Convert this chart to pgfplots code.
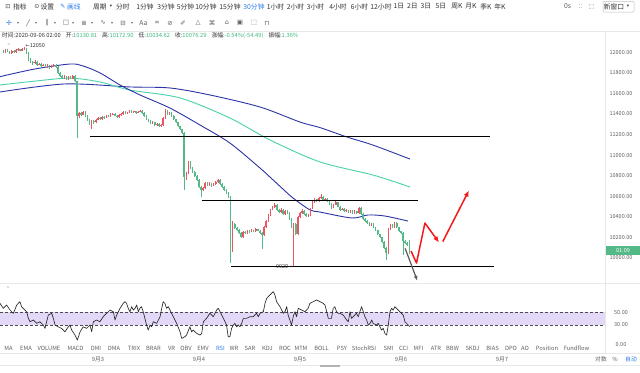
\documentclass[border=0pt]{standalone}
\usepackage{pgfplots}
\pgfplotsset{compat=1.18}
\usepackage{pgfplotstable}
\usepackage{fontspec}
\usetikzlibrary{arrows.meta}
\setmainfont{Noto Sans CJK SC}
\newfontfamily\sym{DejaVu Sans}
\definecolor{upc}{RGB}{236,84,98}
\definecolor{dnc}{RGB}{83,185,135}
\definecolor{mablue}{RGB}{45,52,165}
\definecolor{mateal}{RGB}{72,210,168}
\definecolor{txt}{RGB}{95,95,95}
\definecolor{dtxt}{RGB}{50,50,50}
\definecolor{lgray}{RGB}{232,232,232}
\definecolor{band}{RGB}{228,216,248}
\definecolor{uiblue}{RGB}{45,125,235}
\definecolor{valgreen}{RGB}{60,185,125}
\definecolor{arrred}{RGB}{245,25,25}

\pgfplotstableread{
k o h l c
0 12010 12025 11990 12000
1 12000 12030 11995 12020
2 12020 12028 11998 12005
3 12005 12012 11982 11990
4 11990 12018 11985 12010
5 12010 12020 11992 12000
6 12000 12032 11995 12025
7 12025 12040 12015 12030
8 12030 12036 12008 12015
9 12015 12042 12010 12035
10 12035 12050 12025 12040
11 12040 12045 11980 11990
12 11990 11998 11920 11930
13 11930 11940 11895 11905
14 11905 11915 11880 11895
15 11895 11922 11888 11910
16 11910 11918 11870 11880
17 11880 11900 11872 11890
18 11890 11896 11860 11870
19 11870 11890 11862 11880
20 11880 11888 11850 11860
21 11860 11882 11852 11870
22 11870 11875 11840 11850
23 11850 11872 11845 11865
24 11865 11890 11858 11880
25 11880 11886 11850 11860
26 11860 11866 11790 11800
27 11800 11808 11760 11770
28 11770 11778 11740 11750
29 11750 11775 11742 11765
30 11765 11770 11730 11740
31 11740 11768 11735 11760
32 11760 11766 11738 11745
33 11745 11780 11740 11770
34 11770 11778 11710 11720
35 11720 11725 11170 11380
36 11380 11420 11360 11410
37 11410 11418 11385 11395
38 11395 11430 11390 11420
39 11420 11426 11370 11380
40 11380 11388 11330 11340
41 11340 11350 11295 11310
42 11310 11340 11250 11330
43 11330 11338 11305 11320
44 11320 11352 11312 11345
45 11345 11370 11338 11360
46 11360 11368 11340 11350
47 11350 11385 11345 11375
48 11375 11382 11355 11365
49 11365 11395 11360 11385
50 11385 11392 11370 11380
51 11380 11405 11372 11395
52 11395 11412 11388 11400
53 11400 11406 11378 11385
54 11385 11392 11360 11370
55 11370 11398 11365 11390
56 11390 11408 11382 11400
57 11400 11430 11395 11420
58 11420 11426 11398 11405
59 11405 11422 11400 11415
60 11415 11440 11408 11430
61 11430 11436 11408 11415
62 11415 11432 11410 11425
63 11425 11430 11402 11410
64 11410 11428 11405 11420
65 11420 11438 11415 11430
66 11430 11435 11402 11410
67 11410 11415 11372 11380
68 11380 11386 11342 11350
69 11350 11356 11322 11330
70 11330 11338 11300 11310
71 11310 11328 11302 11320
72 11320 11325 11285 11295
73 11295 11312 11288 11305
74 11305 11310 11270 11280
75 11280 11298 11272 11290
76 11290 11368 11285 11360
77 11360 11445 11355 11430
78 11430 11436 11392 11400
79 11400 11418 11395 11410
80 11410 11415 11372 11380
81 11380 11386 11342 11350
82 11350 11356 11312 11320
83 11320 11326 11272 11280
84 11280 11286 11242 11250
85 11250 11258 11205 11215
86 11215 11222 10660 10790
87 10790 10840 10760 10830
88 10830 10945 10820 10930
89 10930 10940 10870 10880
90 10880 10888 10830 10840
91 10840 10848 10790 10800
92 10800 10808 10750 10760
93 10760 10768 10680 10690
94 10690 10698 10595 10665
95 10665 10690 10650 10680
96 10680 10740 10672 10730
97 10730 10738 10700 10710
98 10710 10735 10702 10725
99 10725 10732 10695 10705
100 10705 10728 10698 10720
101 10720 10748 10712 10740
102 10740 10770 10732 10760
103 10760 10766 10712 10720
104 10720 10726 10680 10690
105 10690 10698 10650 10660
106 10660 10668 10620 10630
107 10630 10640 10580 10590
108 10590 10598 9955 10175
109 10175 10360 10060 10330
110 10330 10338 10280 10290
111 10290 10298 10260 10270
112 10270 10278 10230 10240
113 10240 10250 10190 10200
114 10200 10262 10192 10250
115 10250 10258 10230 10240
116 10240 10275 10232 10265
117 10265 10272 10245 10255
118 10255 10280 10248 10270
119 10270 10276 10250 10260
120 10260 10290 10252 10280
121 10280 10286 10258 10265
122 10265 10272 10232 10240
123 10240 10248 10090 10220
124 10220 10310 10212 10300
125 10300 10370 10292 10360
126 10360 10430 10352 10420
127 10420 10480 10410 10470
128 10470 10510 10462 10500
129 10500 10535 10490 10520
130 10520 10528 10460 10470
131 10470 10478 10440 10450
132 10450 10482 10442 10470
133 10470 10476 10420 10430
134 10430 10470 10422 10460
135 10460 10466 10430 10440
136 10440 10448 10370 10380
137 10380 10388 10290 10300
138 10300 10345 9920 10330
139 10330 10338 10220 10230
140 10230 10410 10222 10400
141 10400 10452 10392 10440
142 10440 10472 10432 10460
143 10460 10466 10420 10430
144 10430 10436 10400 10410
145 10410 10432 10402 10420
146 10420 10490 10412 10480
147 10480 10550 10472 10540
148 10540 10582 10532 10570
149 10570 10578 10545 10555
150 10555 10592 10548 10580
151 10580 10620 10572 10590
152 10590 10598 10556 10565
153 10565 10585 10558 10575
154 10575 10580 10540 10550
155 10550 10556 10520 10530
156 10530 10536 10480 10490
157 10490 10528 10482 10520
158 10520 10550 10512 10540
159 10540 10546 10492 10500
160 10500 10506 10460 10470
161 10470 10490 10462 10480
162 10480 10486 10445 10455
163 10455 10475 10448 10465
164 10465 10470 10436 10445
165 10445 10470 10438 10460
166 10460 10466 10430 10440
167 10440 10465 10432 10455
168 10455 10460 10430 10440
169 10440 10500 10432 10490
170 10490 10496 10420 10430
171 10430 10436 10370 10380
172 10380 10388 10350 10360
173 10360 10366 10330 10340
174 10340 10346 10310 10320
175 10320 10340 10312 10330
176 10330 10336 10290 10300
177 10300 10306 10260 10270
178 10270 10276 10220 10230
179 10230 10236 10190 10200
180 10200 10206 10150 10160
181 10160 10168 10090 10100
182 10100 10108 9985 10050
183 10050 10290 10040 10280
184 10280 10335 10270 10320
185 10320 10328 10290 10300
186 10300 10350 10292 10340
187 10340 10346 10290 10300
188 10300 10306 10250 10260
189 10260 10266 10230 10240
190 10240 10248 10030 10170
191 10170 10178 10140 10150
192 10150 10158 10120 10130
193 10130.81 10172.90 10034.62 10076.29
}\candles

\pgfplotstableread{
k rsi
-1.6 64.1
0.0 56.3
1.6 61.5
3.2 53.6
4.8 48.4
6.4 61.5
7.9 66.8
8.7 58.9
10.3 53.6
11.1 51.0
11.9 40.5
12.7 35.2
14.3 37.9
15.9 32.6
17.4 35.2
19.0 30.0
19.8 24.7
20.6 35.2
21.4 45.7
23.0 48.4
23.8 40.5
24.6 30.0
26.1 27.3
27.7 24.7
29.3 19.4
30.9 27.3
31.7 30.0
32.5 22.1
34.1 14.2
35.2 6.3
36.5 19.4
38.0 27.3
39.6 24.7
41.2 30.0
42.0 19.4
42.8 35.2
44.4 37.9
45.9 35.2
47.5 43.1
49.1 48.4
50.7 53.6
52.3 51.0
53.1 37.9
53.9 45.7
55.5 56.3
57.0 64.1
57.8 66.8
58.6 64.1
59.4 56.3
60.2 51.0
61.0 58.9
61.8 53.6
62.6 56.3
63.4 61.5
64.2 51.0
64.9 56.3
65.7 58.9
66.5 51.0
67.3 40.5
68.1 30.0
68.9 22.1
69.7 30.0
70.5 27.3
71.3 35.2
72.9 32.6
74.5 43.1
75.3 56.3
76.0 66.8
76.8 64.1
77.6 56.3
78.4 58.9
79.2 53.6
80.8 43.1
82.4 32.6
84.0 19.4
84.8 8.9
86.3 11.6
87.1 14.2
88.7 27.3
89.5 19.4
90.3 22.1
91.1 19.4
91.9 16.8
93.5 14.2
94.3 16.8
95.1 35.2
96.6 40.5
98.2 48.4
99.8 43.1
101.4 53.6
102.2 56.3
103.0 51.0
103.8 45.7
105.4 35.2
106.1 30.0
106.9 11.6
107.7 11.6
108.5 24.7
109.3 30.0
110.1 32.6
110.9 27.3
111.7 30.0
112.5 27.3
113.3 32.6
114.1 40.5
115.6 40.5
117.2 43.1
118.8 43.1
120.4 48.4
121.2 43.1
122.0 48.4
123.6 51.0
124.4 64.1
125.2 72.0
126.7 77.3
128.3 82.5
129.1 77.3
129.9 66.8
131.5 58.9
133.1 48.4
133.9 51.0
134.7 58.9
135.4 45.7
136.2 37.9
137.0 30.0
137.8 43.1
138.6 51.0
139.4 43.1
140.2 56.3
141.8 53.6
143.4 51.0
144.9 56.3
145.7 64.1
147.3 66.8
148.9 69.4
150.5 66.8
152.1 64.1
152.9 61.5
153.7 51.0
154.5 40.5
156.0 40.5
156.8 56.3
157.6 58.9
158.4 51.0
159.2 48.4
160.0 48.4
161.6 45.7
163.2 37.9
164.0 35.2
164.8 51.0
165.5 40.5
166.3 43.1
167.1 45.7
167.9 48.4
168.7 43.1
169.5 51.0
170.3 58.9
171.1 51.0
171.9 43.1
172.7 37.9
173.5 30.0
174.3 32.6
175.1 37.9
175.8 32.6
177.4 30.0
178.2 32.6
179.0 27.3
179.8 22.1
180.6 24.7
181.4 16.8
182.2 14.2
183.0 30.0
183.8 51.0
184.6 56.3
185.3 53.6
186.1 58.9
186.9 56.3
187.7 53.6
188.5 51.0
190.1 45.7
190.9 35.2
191.7 32.6
192.5 30.0
193.3 27.3
}\rsitab

\pgfplotsset{
  candle/.style={draw=none, mark=none, forget plot,
    error bars/y dir=minus, error bars/y explicit, error bars/error mark=none}
}

\begin{document}
\begin{tikzpicture}
\path[use as bounding box] (0bp,0bp) rectangle (640bp,-373bp);
\fill[white] (0bp,0bp) rectangle (640bp,-373bp);
\begin{scope}[x=1bp,y=1bp]
\draw[lgray, line width=0.6bp] (0,-31.5) -- (640,-31.5);
\draw[lgray, line width=0.6bp] (0,-283.5) -- (640,-283.5);
\draw[lgray, line width=0.6bp] (0,-353.5) -- (640,-353.5);
\draw[lgray, line width=0.6bp] (0,-365.5) -- (640,-365.5);
\draw[lgray, line width=0.6bp] (605,-31.5) -- (605,-353.5);
\end{scope}

% ---------- price pane ----------
\begin{axis}[at={(0bp,-283bp)}, anchor=south west, scale only axis,
  width=605bp, height=241bp,
  xmin=-1.57, xmax=286, ymin=9757, ymax=12100,
  axis line style={draw=none}, tick style={draw=none},
  xtick=\empty, ytick={10000,10200,...,12000},
  scaled y ticks=false,
  yticklabel pos=right,
  /pgf/number format/assume math mode=true,
  yticklabel={\pgfmathprintnumber[fixed,fixed zerofill,precision=2,1000 sep={}]{\tick}},
  yticklabel style={anchor=center, xshift=16bp, text=txt, font=\fontsize{5.5}{6}\selectfont},
  clip=true]
% MAs
\addplot[mablue, line width=0.9bp, smooth] coordinates {
(-1.6,11614) (29.3,11692) (60.2,11663) (79.2,11653) (98.2,11585) (122.0,11468)
(141.0,11322) (150.5,11268) (163.4,11176) (175.7,11098) (193.3,10962)};
\addplot[mateal, line width=0.9bp, smooth] coordinates {
(-1.6,11682) (15.1,11720) (31.7,11749) (46.0,11711) (60.2,11633) (84.0,11556)
(107.7,11361) (126.8,11147) (150.5,10934) (175.7,10807) (193.3,10690)};
\addplot[mablue, line width=0.9bp, smooth] coordinates {
(-1.6,11763) (15.1,11838) (31.7,11886) (37.9,11867) (46.0,11799) (55.5,11682)
(65.0,11585) (79.2,11458) (93.5,11293) (107.7,11118) (122.0,10875) (126.7,10788)
(132.9,10671) (137.7,10583) (145.8,10467) (150.5,10447) (165.7,10389)
(173.3,10418) (181.4,10408) (192.4,10359)};
% candle wicks
\addplot[candle, restrict expr to domain={\thisrow{c}-\thisrow{o}}{0:100000},
  error bars/error bar style={draw=upc, line width=0.6bp}]
  table[x=k, y=h, y error minus expr={\thisrow{h}-\thisrow{l}}] {\candles};
\addplot[candle, restrict expr to domain={\thisrow{o}-\thisrow{c}}{0.001:100000},
  error bars/error bar style={draw=dnc, line width=0.6bp}]
  table[x=k, y=h, y error minus expr={\thisrow{h}-\thisrow{l}}] {\candles};
% candle bodies
\addplot[candle, restrict expr to domain={\thisrow{c}-\thisrow{o}}{0:100000},
  error bars/error bar style={draw=upc, line width=1.6bp}]
  table[x=k, y=c, y error minus expr={\thisrow{c}-\thisrow{o}}] {\candles};
\addplot[candle, restrict expr to domain={\thisrow{o}-\thisrow{c}}{0.001:100000},
  error bars/error bar style={draw=dnc, line width=1.6bp}]
  table[x=k, y=o, y error minus expr={\thisrow{o}-\thisrow{c}}] {\candles};
% drawn horizontal levels
\addplot[black, line width=1.1bp] coordinates {(41.2,11185) (231.3,11185)};
\addplot[black, line width=1.1bp] coordinates {(94.4,10558) (197.1,10558)};
\addplot[black, line width=1.1bp] coordinates {(108.2,9919) (233.2,9919)};
% arrows
\addplot[arrred, line width=1.5bp, line join=round, -{Latex[length=6bp,width=5bp]}] coordinates {
(193.8,10068) (196.4,9951) (200.4,10340) (207.1,10151)};
\addplot[arrred, line width=1.5bp, -{Latex[length=6bp,width=5bp]}] coordinates {
(208.9,10160) (221.3,10656)};
\addplot[black!65, line width=1.2bp, -{Latex[length=5bp,width=4bp]}] coordinates {
(191.0,10094) (196.8,9778)};
% extreme markers
\node[anchor=west, inner sep=0, text=dtxt, font=\fontsize{5.5}{6}\selectfont] at (axis cs:10.5,12070) {{\sym\fontsize{5}{6}\selectfont ←}12050};
\node[anchor=east, inner sep=0, text=dtxt, font=\fontsize{5.5}{6}\selectfont] at (axis cs:137.5,9916) {9920{\sym\fontsize{5}{6}\selectfont→}};
\end{axis}

% ---------- RSI pane ----------
\begin{axis}[at={(0bp,-346bp)}, anchor=south west, scale only axis,
  width=605bp, height=61bp,
  xmin=-1.57, xmax=286, ymin=-3, ymax=93,
  axis line style={draw=none}, tick style={draw=none},
  ytick={0,30,50}, yticklabel pos=right,
  scaled y ticks=false,
  /pgf/number format/assume math mode=true,
  yticklabel={\pgfmathprintnumber[fixed,fixed zerofill,precision=2]{\tick}},
  yticklabel style={anchor=center, xshift=16bp, text=txt, font=\fontsize{5.5}{6}\selectfont},
  xtick={45,93,141,189,237},
  xticklabels={9月3,9月4,9月5,9月6,9月7},
  xticklabel style={anchor=center, yshift=-13bp, text=txt, font=\fontsize{5.8}{6}\selectfont},
  clip=true]
\addplot[fill=band, draw=none] coordinates {(-1.57,30) (286,30) (286,50) (-1.57,50)} -- cycle;
\addplot[black!70, line width=0.7bp, dash pattern=on 3bp off 2bp] coordinates {(-1.57,50) (286,50)};
\addplot[black!70, line width=0.7bp, dash pattern=on 3bp off 2bp] coordinates {(-1.57,30) (286,30)};
\addplot[black!85, line width=0.65bp, line join=round] table[x=k, y=rsi] {\rsitab};
\end{axis}

\begin{scope}[x=1bp,y=1bp]
% ---------- toolbar ----------
\begin{scope}[every node/.style={inner sep=0, font=\fontsize{6.8}{7}\selectfont, text=dtxt}]
\node at (8,-6.5) {\sym\fontsize{6}{7}\selectfont ⊡};
\node at (20,-6.5) {指标};
\node at (37,-6.5) {\sym\fontsize{6}{7}\selectfont ⊙};
\node at (47.5,-6.5) {设置};
\node[text=uiblue] at (63,-6.5) {\sym\fontsize{6}{7}\selectfont ✎};
\node[text=uiblue] at (74,-6.5) {画线};
\node at (100,-6.5) {周期};
\node at (111,-6.5) {\sym\fontsize{4.5}{5}\selectfont ▾};
\node at (123,-6.5) {分时};
\node at (145,-6.5) {1分钟};
\node at (166,-6.5) {3分钟};
\node at (185.5,-6.5) {5分钟};
\node at (206,-6.5) {10分钟};
\node at (230,-6.5) {15分钟};
\node[text=uiblue] at (254,-6.5) {30分钟};
\node at (275.5,-6.5) {1小时};
\node at (295.5,-6.5) {2小时};
\node at (315.5,-6.5) {3小时};
\node at (338,-6.5) {4小时};
\node at (359.5,-6.5) {6小时};
\node at (381,-6.5) {12小时};
\node at (399,-6.5) {1日};
\node at (412.5,-6.5) {2日};
\node at (426,-6.5) {3日};
\node at (441,-6.5) {5日};
\node at (457,-6.5) {周K};
\node at (471,-6.5) {月K};
\node at (486,-6.5) {季K};
\node at (500,-6.5) {年K};
\node[text=txt] at (567.5,-6.5) {0s};
\node[text=txt] at (580.5,-6.5) {\sym\fontsize{5.5}{6}\selectfont ⁚⁚};
\node[text=txt] at (591.5,-6.5) {\sym\fontsize{6}{7}\selectfont ⬚};
\draw[black!25, line width=0.5bp, rounded corners=1bp] (603,-1.5) rectangle (634,-12);
\node at (614,-6.5) {新窗口};
\node at (628,-6.5) {\sym\fontsize{4.5}{5}\selectfont ▾};
% row 2 icons
\node[text=uiblue] at (9,-23) {\sym\fontsize{7}{8}\selectfont ✛};
\foreach \xx in {18,36,55,73,92,112,132} {\node[text=txt] at (\xx,-23) {\sym\fontsize{4}{5}\selectfont ▾};}
\node[text=txt] at (28,-23) {\sym\fontsize{6.5}{7}\selectfont ╱};
\node[text=txt] at (47,-23) {\sym\fontsize{6.5}{7}\selectfont ∥};
\node[text=txt] at (66,-23) {\sym\fontsize{6.5}{7}\selectfont □};
\node[text=txt] at (84,-23) {\sym\fontsize{6.5}{7}\selectfont ≣};
\node[text=txt] at (103,-23) {\sym\fontsize{6.5}{7}\selectfont ∿};
\node[text=txt] at (123,-23) {\sym\fontsize{6.5}{7}\selectfont ⊟};
\node[text=txt] at (143.5,-23) {Aa};
\node[text=txt] at (157,-23) {\sym\fontsize{6.5}{7}\selectfont ∞};
\node[text=txt] at (170,-23) {\sym\fontsize{6.5}{7}\selectfont ⊘};
\node[text=txt] at (183,-23) {\sym\fontsize{6.5}{7}\selectfont ✐};
\node[text=txt] at (198,-23) {\sym\fontsize{6.5}{7}\selectfont △};
\node[text=txt] at (212,-23) {\sym\fontsize{6.5}{7}\selectfont ⌘};
\node[text=txt] at (227,-23) {\sym\fontsize{6.5}{7}\selectfont ⌂};
\node[text=txt] at (240,-23) {\sym\fontsize{6.5}{7}\selectfont ▣};
\node[text=txt] at (254,-23) {\sym\fontsize{6.5}{7}\selectfont ⬚};
\node[text=txt] at (267,-23) {\sym\fontsize{6.5}{7}\selectfont ⊓};
\end{scope}

% info row
\node[anchor=west, inner sep=0, text=dtxt, font=\fontsize{5.8}{6.5}\selectfont] at (2,-35.5)
 {时间:2020-09-06 02:00\hspace{5bp}开:\textcolor{valgreen}{10130.81}\hspace{5bp}高:\textcolor{valgreen}{10172.90}\hspace{5bp}低:\textcolor{valgreen}{10034.62}\hspace{5bp}收:\textcolor{valgreen}{10076.29}\hspace{5bp}涨幅:\textcolor{valgreen}{-0.54\%(-54.49)}\hspace{5bp}振幅:\textcolor{valgreen}{1.36\%}};
\node[inner sep=0, text=black!35, font=\fontsize{5}{6}\selectfont] at (9,-45) {>};
\node[inner sep=0, text=black!35, font=\fontsize{5}{6}\selectfont] at (8,-288.5) {>};

% countdown label
\node[fill=dnc, minimum width=34bp, minimum height=8.5bp, inner sep=0, text=white,
  font=\fontsize{5.5}{6}\selectfont] at (623,-250.5) {01:09};

% indicator tabs
\begin{scope}[every node/.style={inner sep=0, font=\fontsize{5.8}{6.5}\selectfont, text=txt}]
\foreach \xx/\tt in {8.5/MA, 26/EMA, 49/VOLUME, 75.5/MACD, 96/DMI, 114/DMA, 134/TRIX, 153.5/BRAR, 171.5/VR, 186/OBV, 203/EMV, 234/WR, 250/SAR, 267.5/KDJ, 285/ROC, 301/MTM, 321.5/BOLL, 342/PSY, 364/StochRSI, 388.5/SMI, 403.5/CCI, 418.5/MFI, 436/ATR, 452.5/BBW, 472.5/SKDJ, 492.5/BIAS, 511/DPO, 525/AO, 547/Position, 576.5/Fundflow}
  {\node at (\xx,-348.5) {\tt};}
\node[text=uiblue] at (220.5,-348.5) {RSI};
\node at (601,-359.5) {对数};
\node at (615,-359.5) {\%};
\node[text=uiblue] at (631,-359.5) {自动};
\end{scope}
\fill[black!30] (320,-365) rectangle (340,-366.5);
\end{scope}
\end{tikzpicture}
\end{document}
